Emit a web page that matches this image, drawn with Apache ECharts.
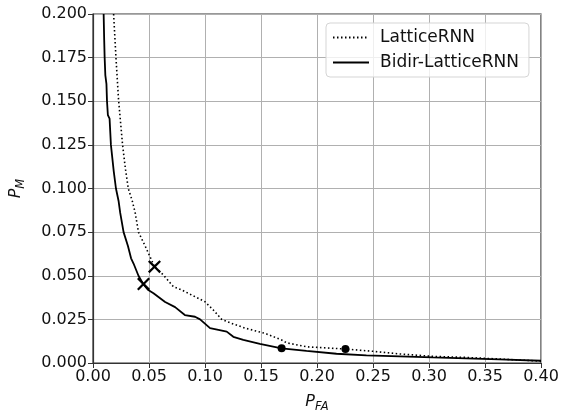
<!DOCTYPE html>
<html>
<head>
<meta charset="utf-8">
<script src="https://cdn.jsdelivr.net/npm/echarts@6/dist/echarts.min.js"></script>
<style>html,body{margin:0;padding:0;background:#fff}#c{width:566px;height:410px}</style>
</head>
<body>
<div id="c"></div>
<script>
const seriesNames = ['LatticeRNN', 'Bidir-LatticeRNN'];
const latticeRNN = [[0.0184,0.200],[0.0205,0.175],[0.0228,0.151],[0.0264,0.125],[0.0288,0.112],[0.0315,0.100],[0.0350,0.093],[0.0377,0.086],[0.0406,0.075],[0.0466,0.067],[0.0549,0.0552],[0.0629,0.0504],[0.0718,0.0437],[0.0793,0.0418],[0.0911,0.038],[0.1000,0.0351],[0.1074,0.0304],[0.1149,0.025],[0.1238,0.0227],[0.1357,0.020],[0.1535,0.017],[0.1684,0.0132],[0.1728,0.0116],[0.1906,0.0093],[0.2254,0.0080],[0.2500,0.0067],[0.2738,0.0052],[0.3034,0.0038],[0.3330,0.0032],[0.3626,0.0023],[0.4000,0.0011]];
const bidirLatticeRNN = [[0.0095,0.200],[0.0100,0.185],[0.0104,0.175],[0.0110,0.165],[0.0120,0.160],[0.0125,0.150],[0.0133,0.142],[0.0148,0.140],[0.0160,0.125],[0.0185,0.110],[0.0205,0.100],[0.0228,0.093],[0.0243,0.086],[0.0273,0.075],[0.0312,0.067],[0.0340,0.060],[0.0362,0.057],[0.0406,0.050],[0.0451,0.045],[0.0490,0.042],[0.0540,0.040],[0.0644,0.035],[0.0733,0.032],[0.0820,0.0275],[0.0911,0.0265],[0.0956,0.025],[0.1045,0.020],[0.1194,0.018],[0.1253,0.015],[0.1342,0.0132],[0.1490,0.0109],[0.1684,0.0084],[0.1906,0.0069],[0.2174,0.0053],[0.2441,0.0044],[0.2738,0.0038],[0.3033,0.0032],[0.3330,0.0027],[0.3626,0.0021],[0.4000,0.0013]];
const crossPoints = [[0.0549,0.0552],[0.0451,0.0453]];
const dotPoints = [[0.1684,0.0084],[0.2254,0.0080]];
const xTicks = {min:0, max:0.4, interval:0.05};
const yTicks = {min:0, max:0.2, interval:0.025};

const FONT = 'DejaVu Sans';
const chart = echarts.init(document.getElementById('c'), null, {renderer:'canvas'});
chart.setOption({
  animation:false,
  backgroundColor:'#fff',
  textStyle:{fontFamily:FONT},
  grid:{left:93, right:25, top:14, bottom:47, outerBoundsMode:'none', containLabel:false, show:true, borderColor:'#333', borderWidth:1.2, backgroundColor:'transparent'},
  legend:{
    orient:'vertical', left:326, top:23,
    data:seriesNames,
    itemWidth:36, itemHeight:14, itemGap:8,
    padding:[6,10,6,6],
    itemStyle:{opacity:0},
    borderColor:'#d5d5d5', borderWidth:1, borderRadius:4, backgroundColor:'rgba(255,255,255,0.8)',
    textStyle:{fontFamily:FONT, fontSize:17, color:'#111', padding:[0,0,0,6]}
  },
  xAxis:{
    type:'value', min:xTicks.min, max:xTicks.max, interval:xTicks.interval,
    name:'{a|P}{b|FA}', nameLocation:'middle', nameGap:28,
    nameTextStyle:{rich:{a:{fontFamily:FONT, fontStyle:'italic', fontSize:16, color:'#111'}, b:{fontFamily:FONT, fontStyle:'italic', fontSize:11.5, color:'#111', padding:[10,0,0,0]}}},
    axisLine:{show:true, onZero:false, lineStyle:{color:'#333', width:1.2}},
    axisTick:{show:true, length:5, lineStyle:{color:'#333'}},
    axisLabel:{fontFamily:FONT, fontSize:16, color:'#111', margin:6, formatter:v=>v.toFixed(2)},
    splitLine:{show:true, lineStyle:{color:'#b0b0b0', width:1}}
  },
  yAxis:{
    type:'value', min:yTicks.min, max:yTicks.max, interval:yTicks.interval,
    name:'{a|P}{b|M}', nameLocation:'middle', nameGap:66,
    nameTextStyle:{rich:{a:{fontFamily:FONT, fontStyle:'italic', fontSize:16, color:'#111'}, b:{fontFamily:FONT, fontStyle:'italic', fontSize:11.5, color:'#111', padding:[10,0,0,0]}}},
    axisLine:{show:true, onZero:false, lineStyle:{color:'#333', width:1.2}},
    axisTick:{show:true, length:5, lineStyle:{color:'#333'}},
    axisLabel:{fontFamily:FONT, fontSize:16, color:'#111', margin:6, formatter:v=>v.toFixed(3)},
    splitLine:{show:true, lineStyle:{color:'#b0b0b0', width:1}}
  },
  series:[
    {name:seriesNames[0], type:'line', data:latticeRNN, symbol:'none', clip:true,
     lineStyle:{color:'#000', width:1.6, type:[1.5,2.5]}, itemStyle:{color:'#000'}, z:3},
    {name:seriesNames[1], type:'line', data:bidirLatticeRNN, symbol:'none', clip:true,
     lineStyle:{color:'#000', width:1.8, type:'solid'}, itemStyle:{color:'#000'}, z:3},
    {type:'scatter', data:crossPoints,
     symbol:'path://M0,1.2L1.2,0L5,3.8L8.8,0L10,1.2L6.2,5L10,8.8L8.8,10L5,6.2L1.2,10L0,8.8L3.8,5Z', symbolSize:13,
     itemStyle:{color:'#000', opacity:1}, z:5},
    {type:'scatter', data:dotPoints, symbol:'circle', symbolSize:8,
     itemStyle:{color:'#000', opacity:1}, z:5}
  ]
});
</script>
</body>
</html>
